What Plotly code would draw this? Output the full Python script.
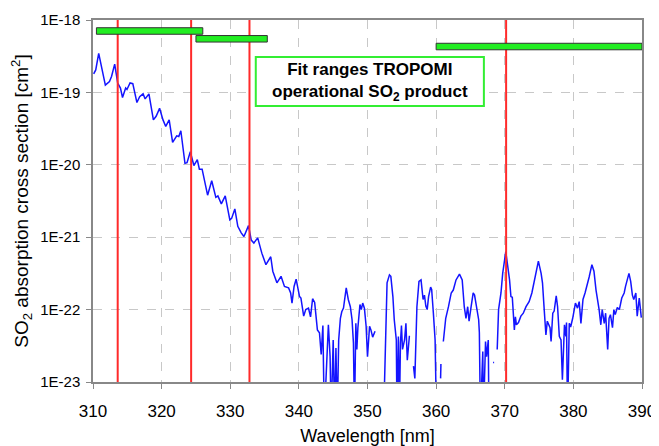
import plotly.graph_objects as go

# ---- data ----
# wavelength [nm]; None marks a gap in the measured spectrum
wavelength = [
    310.1, 310.4, 310.83, 311.2, 311.8, 312.4, 312.7, 313.16, 313.6, 314.0,
    314.3, 314.76, 314.95, 315.4, 315.8, 316.4, 316.8, 317.3, 317.6, 318.15,
    318.8, 319.2, 319.7, 320.2, 320.6, 321.1, 321.6, 322.2, 322.5, 322.8,
    323.4, 323.7, 324.18, 324.7, 325.2, 325.5, 325.9, 326.7, 327.3, 327.9,
    328.2, 328.7, 329.27, 329.94, 330.2, 330.67, 331.1, 331.6, 332.0, 332.66,
    333.06, 333.44, 334.0, 334.6, 335.2, 335.9, 336.2, 336.8, 337.4, 337.9,
    338.5, 338.8, 339.0, 339.3, 339.6, 340.1, 340.3, 340.7, 341.0, 341.4,
    341.7, 342.0, 342.3, 342.7, 343.0, 343.25, 343.5, 343.7, 344.1, 344.3,
    344.55, 344.7, 345.0, 345.2, 345.4, 345.6, 345.8, 346.05, 346.25, 346.5,
    346.9, 347.2, 347.5, 347.75, 347.95, 348.1, 348.3, 348.45, 348.6, 348.9,
    349.1, 349.3, 349.55, 349.8, 350.0, 350.3, 350.5, 350.75, 351.1, None,
    352.35, 352.85, 353.2, 353.4, 353.7, 353.9, 354.2, 354.3, 354.5, 354.65,
    354.8, 354.95, 355.1, 355.4, 355.6, 355.8, 356.1, 356.2, None,
    356.7, 356.9, 357.2, 357.5, 357.8, 358.1, 358.3, 358.5, 358.7, 358.9,
    359.2, 359.35, 359.6, 359.85, 360.05, None, 360.65, 360.7, None,
    361.05, 361.4, 361.8, 362.2, 362.5, 362.9, 363.4, 363.8, 364.1, 364.35,
    364.6, 364.8, 365.1, 365.4, 365.6, 365.9, 366.2, 366.3, 366.45, 366.8,
    366.9, 367.2, 367.35, 367.6, 367.7, None, 368.3, 368.45, None,
    368.9, 369.1, 369.45, 369.7, 370.15, 370.4, 370.7, 370.9, 371.1, 371.4,
    371.55, 371.7, 372.0, 372.35, 372.7, 373.1, 373.55, 373.95, 374.3, 374.9,
    375.3, 375.5, 375.75, 376.0, 376.2, 376.6, 376.75, 377.0, 377.2, 377.5,
    377.7, 377.95, 378.2, 378.4, 378.7, 378.9, 379.0, 379.15, 379.4, 379.6,
    379.9, 380.3, 380.6, 380.85, 381.1, 381.4, 381.7, 382.05, 382.3, 382.7,
    383.0, 383.3, 383.5, 383.75, 384.0, 384.2, 384.5, 384.7, 385.0, 385.2,
    385.4, 385.7, 385.9, 386.1, 386.4, 386.7, 387.05, 387.4, 387.6, 388.1,
    388.35, 388.6, 388.8, 389.1, 389.3, 389.6, 389.9,
]
# log10 of the SO2 absorption cross section [cm^2]; -23.5 = below the plotted range
so2_log10_xs = [
    -18.745, -18.69, -18.46, -18.62, -18.90, -18.85, -18.78, -18.61, -18.87, -18.94,
    -19.07, -18.94, -18.96, -18.87, -18.88, -19.14, -19.06, -19.02, -19.09, -19.02,
    -19.38, -19.33, -19.22, -19.38, -19.47, -19.38, -19.69, -19.60, -19.61, -19.53,
    -19.98, -19.97, -19.82, -20.01, -19.93, -20.06, -20.06, -20.42, -20.22, -20.45,
    -20.43, -20.54, -20.43, -20.76, -20.74, -20.61, -20.85, -20.94, -20.99, -20.84,
    -21.04, -21.08, -21.01, -21.22, -21.38, -21.27, -21.47, -21.63, -21.54, -21.68,
    -21.70, -21.77, -21.91, -21.68, -21.58, -21.82, -21.84, -22.09, -22.00, -21.98,
    -22.10, -21.85, -21.90, -22.28, -22.32, -22.62, -22.22, -23.5, -22.51, -22.21,
    -22.65, -23.5, -22.42, -23.5, -22.53, -23.5, -22.42, -22.12, -22.03, -21.98,
    -21.70, -21.86, -21.96, -22.14, -22.46, -23.5, -22.19, -22.55, -22.25, -21.93,
    -22.00, -21.91, -21.98, -22.23, -22.65, -22.23, -22.28, -22.38, -22.30, None,
    -23.5, -21.63, -21.52, -21.54, -21.82, -22.14, -22.42, -23.5, -22.37, -23.5,
    -22.46, -22.22, -22.55, -22.42, -22.19, -22.70, -22.37, -22.37, None,
    -22.78, -22.95, -21.96, -21.61, -21.59, -21.86, -21.80, -21.95, -22.00, -21.82,
    -21.69, -21.72, -22.05, -22.42, -23.5, None, -22.95, -22.75, None,
    -22.44, -22.12, -21.96, -21.77, -21.73, -21.59, -21.51, -21.59, -21.96, -22.12,
    -21.96, -22.16, -21.96, -21.77, -21.80, -22.00, -22.14, -22.32, -23.5, -22.58,
    -23.5, -22.44, -22.65, -22.42, -23.5, None, -22.73, -22.73, None,
    -22.55, -22.00, -21.77, -21.50, -21.20, -21.36, -21.59, -21.82, -21.83, -22.28,
    -22.10, -22.21, -22.18, -22.09, -22.05, -21.96, -21.89, -21.77, -21.59, -21.33,
    -21.50, -21.63, -22.00, -22.35, -22.16, -22.25, -22.44, -22.05, -22.02, -21.81,
    -21.96, -22.37, -22.42, -22.97, -22.21, -22.37, -22.18, -23.5, -22.19, -22.24,
    -22.12, -21.91, -21.98, -21.89, -22.19, -21.86, -21.77, -21.66, -21.55, -21.38,
    -21.47, -21.73, -21.83, -22.00, -22.21, -22.00, -22.19, -22.05, -22.55, -22.12,
    -22.07, -22.25, -22.00, -22.07, -21.97, -22.00, -21.84, -21.77, -21.68, -21.50,
    -21.61, -21.80, -21.86, -21.77, -22.09, -21.84, -22.11,
]

# vertical red marker lines [nm]
marker_lines = [313.6, 324.3, 332.8, 370.2]

# fit ranges (green bars)
fit_start = [310.5, 325.0, 360.0]
fit_end = [326.0, 335.4, 390.0]
fit_level = [7.05e-19, 5.5e-19, 4.3e-19]

y_tickvals = [1e-18, 1e-19, 1e-20, 1e-21, 1e-22, 1e-23]
y_ticktext = ["1E-18", "1E-19", "1E-20", "1E-21", "1E-22", "1E-23"]
x_tickvals = [310, 320, 330, 340, 350, 360, 370, 380, 390]

FONT = "Liberation Sans, Arial, Helvetica, sans-serif"

xs_values = [None if v is None else 10 ** v for v in so2_log10_xs]

fig = go.Figure()

fig.add_trace(go.Scatter(
    x=wavelength, y=xs_values, mode="lines",
    line=dict(color="#1414ff", width=1.5),
    connectgaps=False, hoverinfo="skip", showlegend=False,
))

# red lines
for wl in marker_lines:
    fig.add_trace(go.Scatter(
        x=[wl, wl], y=[1e-23, 1e-18], mode="lines",
        line=dict(color="#ff2a2a", width=2), hoverinfo="skip", showlegend=False,
    ))

# green bars
half = 10 ** 0.045
for x0, x1, lv in zip(fit_start, fit_end, fit_level):
    lo, hi = lv / half, lv * half
    fig.add_trace(go.Scatter(
        x=[x0, x1, x1, x0, x0], y=[lo, lo, hi, hi, lo], mode="lines",
        fill="toself", fillcolor="#22ee22",
        line=dict(color="#333333", width=1), hoverinfo="skip", showlegend=False,
    ))

# text box
fig.add_shape(type="rect", xref="paper", yref="paper",
              x0=0.2965, x1=0.712, y0=0.7626, y1=0.8979,
              fillcolor="white", line=dict(color="#33ee33", width=2), layer="above")
fig.add_annotation(xref="paper", yref="paper", x=0.504, y=0.830,
                   text="<b>Fit ranges TROPOMI<br>operational SO<sub>2</sub> product</b>",
                   showarrow=False, font=dict(family=FONT, size=17, color="black"),
                   align="center", xanchor="center", yanchor="middle")

# the page body adds an 8 px margin, so the figure is 16 px smaller than the window
fig.update_layout(
    width=651, height=438,
    margin=dict(l=85, r=17, t=12, b=64),
    paper_bgcolor="white", plot_bgcolor="white",
    font=dict(family=FONT, color="black"),
)
fig.update_xaxes(
    range=[310, 390], tickvals=x_tickvals, ticks="outside", ticklen=5,
    tickcolor="#888888", tickfont=dict(size=17, family=FONT, color="black"),
    ticklabelstandoff=8, automargin=False,
    showgrid=True, gridcolor="#c8c8c8", griddash="dash", gridwidth=1,
    showline=True, linecolor="#888888", linewidth=1.5, mirror=True,
    zeroline=False,
    title=dict(text="Wavelength [nm]", font=dict(size=18, family=FONT, color="black"), standoff=12),
)
fig.update_yaxes(
    type="log", range=[-23, -18], tickvals=y_tickvals, ticktext=y_ticktext,
    ticks="outside", ticklen=5, tickcolor="#888888",
    tickfont=dict(size=15, family=FONT, color="black"), ticklabelstandoff=3,
    automargin=False,
    showgrid=True, gridcolor="#c8c8c8", griddash="dash", gridwidth=1,
    showline=True, linecolor="#888888", linewidth=1.5, mirror=True,
    zeroline=False,
    title=dict(text="SO<sub>2</sub> absorption cross section [cm<sup>2</sup>]",
               font=dict(size=19, family=FONT, color="black"), standoff=12),
)

fig.write_html("out.html")
